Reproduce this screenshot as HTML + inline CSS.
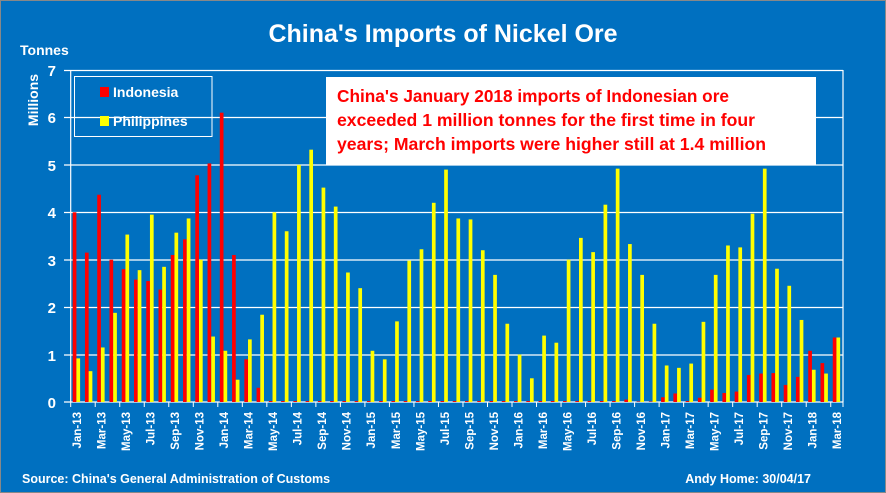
<!DOCTYPE html>
<html><head><meta charset="utf-8"><style>
html,body{margin:0;padding:0;background:#0070C0;}
svg{display:block;font-family:"Liberation Sans",sans-serif;font-weight:bold;}
</style></head><body>
<svg id="s" width="886" height="493" xmlns="http://www.w3.org/2000/svg">
<rect x="0.5" y="0.5" width="885" height="492" fill="#0070C0" stroke="#888" stroke-width="1"/>
<text x="443" y="42" fill="#fff" font-size="25" text-anchor="middle">China's Imports of Nickel Ore</text>
<text x="20" y="55" fill="#fff" font-size="14">Tonnes</text>
<text transform="translate(38,100) rotate(-90)" fill="#fff" font-size="14" text-anchor="middle">Millions</text>
<g stroke="#fff" stroke-width="1.2" id="grid">
<line x1="64" y1="70.5" x2="843" y2="70.5"/><line x1="64" y1="117.5" x2="843" y2="117.5"/>
<line x1="64" y1="165" x2="843" y2="165"/><line x1="64" y1="212.5" x2="843" y2="212.5"/>
<line x1="64" y1="260" x2="843" y2="260"/><line x1="64" y1="307.5" x2="843" y2="307.5"/>
<line x1="64" y1="355" x2="843" y2="355"/><line x1="64" y1="402" x2="843" y2="402"/>
<line x1="70.7" y1="70" x2="70.7" y2="402"/><line x1="843" y1="70" x2="843" y2="402"/>
</g>
<g fill="#fff" font-size="15" text-anchor="end">
<text x="56" y="76">7</text><text x="56" y="123">6</text><text x="56" y="171">5</text>
<text x="56" y="218">4</text><text x="56" y="266">3</text><text x="56" y="313">2</text>
<text x="56" y="361">1</text><text x="56" y="408">0</text>
</g>
<g id="bars"></g>
<g id="ticks" stroke="#fff" stroke-width="1"></g>
<g fill="#fff" font-size="11.5" text-anchor="end">
<text transform="translate(81,412) rotate(-90)">Jan-13</text>
<text transform="translate(105.5,412) rotate(-90)">Mar-13</text>
<text transform="translate(130,412) rotate(-90)">May-13</text>
<text transform="translate(154.6,412) rotate(-90)">Jul-13</text>
<text transform="translate(179.1,412) rotate(-90)">Sep-13</text>
<text transform="translate(203.6,412) rotate(-90)">Nov-13</text>
<text transform="translate(228.1,412) rotate(-90)">Jan-14</text>
<text transform="translate(252.6,412) rotate(-90)">Mar-14</text>
<text transform="translate(277.2,412) rotate(-90)">May-14</text>
<text transform="translate(301.7,412) rotate(-90)">Jul-14</text>
<text transform="translate(326.2,412) rotate(-90)">Sep-14</text>
<text transform="translate(350.7,412) rotate(-90)">Nov-14</text>
<text transform="translate(375.2,412) rotate(-90)">Jan-15</text>
<text transform="translate(399.8,412) rotate(-90)">Mar-15</text>
<text transform="translate(424.3,412) rotate(-90)">May-15</text>
<text transform="translate(448.8,412) rotate(-90)">Jul-15</text>
<text transform="translate(473.3,412) rotate(-90)">Sep-15</text>
<text transform="translate(497.8,412) rotate(-90)">Nov-15</text>
<text transform="translate(522.4,412) rotate(-90)">Jan-16</text>
<text transform="translate(546.9,412) rotate(-90)">Mar-16</text>
<text transform="translate(571.4,412) rotate(-90)">May-16</text>
<text transform="translate(595.9,412) rotate(-90)">Jul-16</text>
<text transform="translate(620.4,412) rotate(-90)">Sep-16</text>
<text transform="translate(645,412) rotate(-90)">Nov-16</text>
<text transform="translate(669.5,412) rotate(-90)">Jan-17</text>
<text transform="translate(694,412) rotate(-90)">Mar-17</text>
<text transform="translate(718.5,412) rotate(-90)">May-17</text>
<text transform="translate(743,412) rotate(-90)">Jul-17</text>
<text transform="translate(767.6,412) rotate(-90)">Sep-17</text>
<text transform="translate(792.1,412) rotate(-90)">Nov-17</text>
<text transform="translate(816.6,412) rotate(-90)">Jan-18</text>
<text transform="translate(841.1,412) rotate(-90)">Mar-18</text>
</g>
<rect x="74.5" y="76.5" width="137.5" height="60" fill="none" stroke="#fff" stroke-width="1"/>
<rect x="100" y="87" width="9" height="10" fill="#f00"/>
<text x="113" y="97" fill="#fff" font-size="14">Indonesia</text>
<rect x="100" y="116" width="9" height="10" fill="#ff0"/>
<text x="113" y="126" fill="#fff" font-size="14">Philippines</text>
<rect x="326" y="77" width="490" height="88" fill="#fff"/>
<g fill="#f00" font-size="17.5">
<text x="337" y="102" textLength="392" lengthAdjust="spacingAndGlyphs">China's January 2018 imports of Indonesian ore</text>
<text x="337" y="126" textLength="418" lengthAdjust="spacingAndGlyphs">exceeded 1 million tonnes for the first time in four</text>
<text x="337" y="150" textLength="429" lengthAdjust="spacingAndGlyphs">years; March imports were higher still at 1.4 million</text>
</g>
<text x="22" y="483" fill="#fff" font-size="12.5">Source: China's General Administration  of Customs</text>
<text x="811" y="483" fill="#fff" font-size="12.5" text-anchor="end">Andy Home: 30/04/17</text>
</svg>
<script>
var ind=[4.0,3.15,4.37,3.0,2.8,2.58,2.55,2.37,3.1,3.43,4.78,5.03,6.1,3.1,0.9,0.3];
while(ind.length<45)ind.push(0.02);
ind=ind.concat([0.05,0.01,0.01,0.1,0.18,0.02,0.09,0.26,0.19,0.22,0.57,0.6,0.61,0.36,0.53,1.08,0.82,1.36]);
var phi=[0.92,0.65,1.15,1.88,3.53,2.78,3.95,2.85,3.57,3.87,3.0,1.38,1.08,0.47,1.32,1.84,4.0,3.6,5.0,5.32,4.52,4.12,2.73,2.4,1.08,0.9,1.7,2.98,3.22,4.2,4.9,3.87,3.85,3.2,2.68,1.65,1.0,0.5,1.4,1.25,3.0,3.46,3.16,4.16,4.92,3.33,2.68,1.65,0.77,0.72,0.81,1.69,2.68,3.3,3.26,3.97,4.92,2.81,2.45,1.73,0.68,0.6,1.36];
var ns="http://www.w3.org/2000/svg",g=document.getElementById("bars"),t=document.getElementById("ticks");
var w=(843-70.7)/63,u=47.43;
function r(x,v,c){var e=document.createElementNS(ns,"rect");var h=v*u;e.setAttribute("x",x);e.setAttribute("y",402-h);e.setAttribute("width",3.7);e.setAttribute("height",h);e.setAttribute("fill",c);g.appendChild(e);}
for(var i=0;i<63;i++){var x0=70.7+i*w;r(x0+2,ind[i],"#f00");r(x0+5.7,phi[i],"#ff0");}
for(var k=0;k<=32;k++){var x=Math.min(843,70.7+k*2*w);var l=document.createElementNS(ns,"line");l.setAttribute("x1",x);l.setAttribute("x2",x);l.setAttribute("y1",402);l.setAttribute("y2",407);t.appendChild(l);}
</script>
</body></html>
